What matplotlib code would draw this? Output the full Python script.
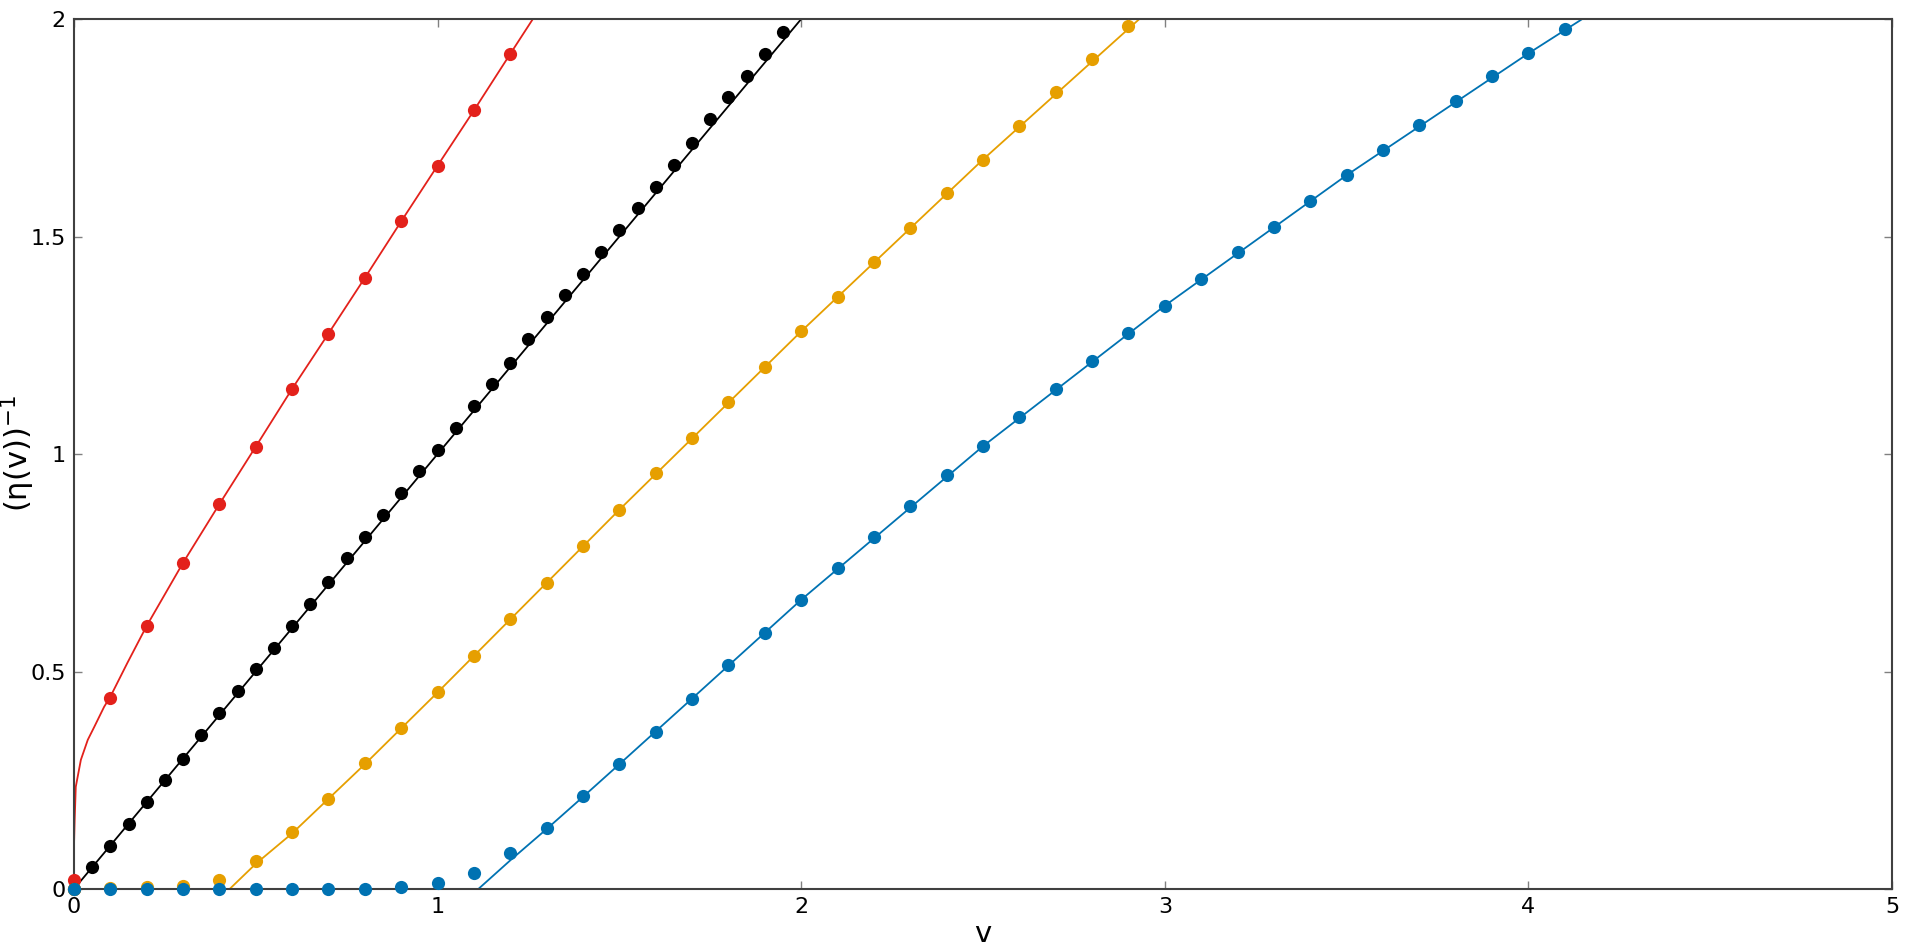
import numpy as np
import matplotlib.pyplot as plt

# marker data
x_red = [0.0, 0.1, 0.2, 0.3, 0.4, 0.5, 0.6, 0.7, 0.8, 0.9, 1.0, 1.1, 1.2]
y_red = [0.02, 0.44, 0.605, 0.75, 0.885, 1.017, 1.15, 1.277, 1.405, 1.535, 1.663, 1.79, 1.92]

x_black = [0.0, 0.05, 0.1, 0.15, 0.2, 0.25, 0.3, 0.35, 0.4, 0.45, 0.5, 0.55, 0.6, 0.65,
           0.7, 0.75, 0.8, 0.85, 0.9, 0.95, 1.0, 1.05, 1.1, 1.15, 1.2, 1.25, 1.3, 1.35,
           1.4, 1.45, 1.5, 1.55, 1.6, 1.65, 1.7, 1.75, 1.8, 1.85, 1.9, 1.95]
y_black = [0.0, 0.05, 0.10, 0.15, 0.20, 0.25, 0.30, 0.355, 0.405, 0.455, 0.505, 0.555,
           0.605, 0.655, 0.705, 0.76, 0.81, 0.86, 0.91, 0.96, 1.01, 1.06, 1.11, 1.16,
           1.21, 1.265, 1.315, 1.365, 1.415, 1.465, 1.515, 1.565, 1.615, 1.665, 1.715,
           1.77, 1.82, 1.87, 1.92, 1.97]

x_orange = [0.0, 0.1, 0.2, 0.3, 0.4, 0.5, 0.6, 0.7, 0.8, 0.9, 1.0, 1.1, 1.2, 1.3, 1.4,
            1.5, 1.6, 1.7, 1.8, 1.9, 2.0, 2.1, 2.2, 2.3, 2.4, 2.5, 2.6, 2.7, 2.8, 2.9]
y_orange = [0.0, 0.002, 0.004, 0.006, 0.021, 0.065, 0.13, 0.207, 0.289, 0.37, 0.452,
            0.536, 0.62, 0.704, 0.788, 0.872, 0.956, 1.038, 1.119, 1.2, 1.282, 1.36,
            1.442, 1.52, 1.599, 1.677, 1.753, 1.832, 1.907, 1.983]

x_blue = [0.0, 0.1, 0.2, 0.3, 0.4, 0.5, 0.6, 0.7, 0.8, 0.9, 1.0, 1.1, 1.2, 1.3, 1.4,
          1.5, 1.6, 1.7, 1.8, 1.9, 2.0, 2.1, 2.2, 2.3, 2.4, 2.5, 2.6, 2.7, 2.8, 2.9,
          3.0, 3.1, 3.2, 3.3, 3.4, 3.5, 3.6, 3.7, 3.8, 3.9, 4.0, 4.1]
y_blue = [0.0, 0.0, 0.0, 0.0, 0.0, 0.0, 0.0, 0.0, 0.001, 0.004, 0.015, 0.038, 0.083,
          0.14, 0.213, 0.287, 0.362, 0.438, 0.514, 0.589, 0.665, 0.738, 0.81, 0.881,
          0.951, 1.018, 1.086, 1.15, 1.215, 1.279, 1.341, 1.403, 1.464, 1.523, 1.582,
          1.641, 1.7, 1.756, 1.812, 1.868, 1.921, 1.978]

# fitted curves
xl_red = [0.0, 0.002, 0.005, 0.019, 0.038, 0.056, 0.083, 0.1, 0.147, 0.2, 0.3, 0.4,
          0.5, 0.6, 0.7, 0.8, 0.9, 1.0, 1.1, 1.2, 1.262]
yl_red = [0.097, 0.16, 0.235, 0.297, 0.343, 0.373, 0.419, 0.442, 0.52, 0.605, 0.75,
          0.885, 1.017, 1.15, 1.277, 1.405, 1.535, 1.663, 1.79, 1.92, 2.0]

xl_black = [0.0, 2.0]
yl_black = [0.0, 2.0]

xl_orange = [0.428, 0.5, 0.6, 0.8, 1.0, 1.2, 1.5, 2.0, 2.5, 2.93]
yl_orange = [0.0, 0.058, 0.128, 0.287, 0.452, 0.62, 0.872, 1.282, 1.677, 2.0]

xl_blue = [1.112, 1.2, 1.3, 1.4, 1.5, 1.7, 2.0, 2.5, 3.0, 3.5, 4.0, 4.148]
yl_blue = [0.0, 0.066, 0.138, 0.212, 0.287, 0.438, 0.665, 1.018, 1.341, 1.641, 1.921, 2.0]

RED = '#e3211b'
ORANGE = '#e69f00'
BLUE = '#0072b2'


def main():
    fig = plt.figure(figsize=(19.16, 9.47), dpi=100)
    ax = fig.add_axes([0.0386, 0.0612, 0.9489, 0.9187])

    series = [
        (xl_red, yl_red, x_red, y_red, RED),
        (xl_black, yl_black, x_black, y_black, 'black'),
        (xl_orange, yl_orange, x_orange, y_orange, ORANGE),
        (xl_blue, yl_blue, x_blue, y_blue, BLUE),
    ]
    for xl, yl, xm, ym, c in series:
        ax.plot(xl, yl, '-', color=c, lw=1.3, zorder=2)
        ax.plot(xm, ym, 'o', color=c, ms=9.5, mec='none', zorder=3, clip_on=False)

    ax.set_xlim(0, 5)
    ax.set_ylim(0, 2)
    ax.set_xticks([0, 1, 2, 3, 4, 5])
    ax.set_xticklabels(['0', '1', '2', '3', '4', '5'])
    ax.set_yticks([0, 0.5, 1, 1.5, 2])
    ax.set_yticklabels(['0', '0.5', '1', '1.5', '2'])
    ax.tick_params(direction='in', top=True, right=True, length=6, width=1,
                   color='#808080', labelsize=16, pad=6)
    for s in ax.spines.values():
        s.set_color('#404040')
        s.set_linewidth(1.5)

    ax.set_xlabel('v', fontsize=21, labelpad=2)
    ax.set_ylabel('(η(v))$^{-1}$', fontsize=22)
    ax.yaxis.set_label_coords(-0.0204, 0.5)

    fig.savefig('out.png', dpi=100)


if __name__ == "__main__":
    main()
